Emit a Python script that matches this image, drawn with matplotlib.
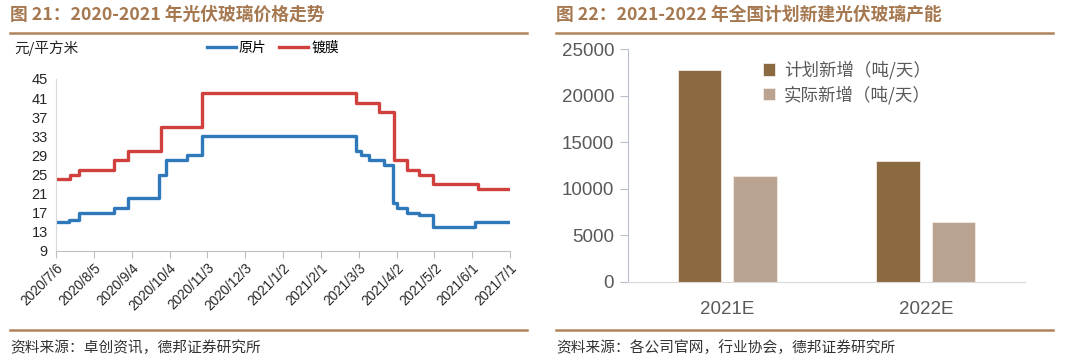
import matplotlib
matplotlib.use('Agg')
import matplotlib.pyplot as plt
from matplotlib.lines import Line2D

plt.rcParams['font.family'] = ['Noto Sans CJK SC', 'DejaVu Sans']

# ---- 图21 data: price steps (day offset from 2020/7/6, value)
tick_days = [0, 30, 60, 90, 120, 150, 180, 210, 240, 270, 300, 330, 360]
tick_labels = ['2020/7/6', '2020/8/5', '2020/9/4', '2020/10/4', '2020/11/3',
               '2020/12/3', '2021/1/2', '2021/2/1', '2021/3/3', '2021/4/2',
               '2021/5/2', '2021/6/1', '2021/7/1']
coated_days = [0, 11, 18, 46, 57, 83, 116, 238, 256, 268, 278, 288, 299, 335, 360]
coated_vals = [24, 25, 26, 28, 30, 35, 42, 40, 38, 28, 26, 25, 23, 22, 22]
raw_days = [0, 10, 18, 46, 57, 82, 87, 104, 116, 238, 242, 248, 260, 267, 270,
            278, 288, 299, 332, 360]
raw_vals = [15, 15.5, 17, 18, 20, 25, 28, 29, 33, 30, 29, 28, 27, 19, 18,
            17, 16.5, 14, 15, 15]

# ---- 图22 data
years = ['2021E', '2022E']
planned = [22800, 13000]
actual = [11400, 6450]

W, H = 1080, 364
fig = plt.figure(figsize=(W / 100, H / 100), dpi=100)

title_c = '#a57850'
rule_c = '#b0845c'

def fx(x):
    return x / W

def fy(y):
    return 1 - y / H

# titles, rules, sources
fig.text(fx(10), fy(15), '图 21：2020-2021 年光伏玻璃价格走势', fontsize=12.8,
         fontweight='bold', color=title_c, va='center', ha='left')
fig.text(fx(556), fy(15), '图 22：2021-2022 年全国计划新建光伏玻璃产能', fontsize=12.8,
         fontweight='bold', color=title_c, va='center', ha='left')
for x0, x1 in [(10, 527), (556, 1053)]:
    fig.add_artist(Line2D([fx(x0), fx(x1)], [fy(32.5), fy(32.5)], color=rule_c, lw=1.8,
                          transform=fig.transFigure))
    fig.add_artist(Line2D([fx(x0), fx(x1)], [fy(329.5), fy(329.5)], color=rule_c, lw=1.8,
                          transform=fig.transFigure))
fig.text(fx(10), fy(348), '资料来源：卓创资讯，德邦证券研究所', fontsize=10.6,
         color='#333333', va='center', ha='left')
fig.text(fx(556), fy(348), '资料来源：各公司官网，行业协会，德邦证券研究所', fontsize=10.6,
         color='#333333', va='center', ha='left')

# ---- left chart
ax1 = fig.add_axes([fx(56), fy(251), fx(510 - 56), (251 - 79) / H])
ax1.plot(raw_days, raw_vals, drawstyle='steps-post', color='#2f78b9', lw=2.4, label='原片')
ax1.plot(coated_days, coated_vals, drawstyle='steps-post', color='#d0403d', lw=2.4, label='镀膜')
ax1.set_xlim(0, 360)
ax1.set_ylim(9, 45)
ax1.set_yticks(range(9, 46, 4))
ax1.set_xticks(tick_days)
ax1.set_xticklabels(tick_labels, rotation=45, ha='right', rotation_mode='anchor')
for lab in ax1.get_xticklabels() + ax1.get_yticklabels():
    lab.set_family(['Liberation Sans', 'DejaVu Sans'])
    lab.set_color('#262626')
for lab in ax1.get_yticklabels():
    lab.set_fontsize(10.5)
for lab in ax1.get_xticklabels():
    lab.set_fontsize(9.8)
ax1.spines['top'].set_visible(False)
ax1.spines['right'].set_visible(False)
ax1.spines['left'].set_color('#d9d9d9')
ax1.spines['bottom'].set_color('#bfbfbf')
ax1.tick_params(axis='y', length=0, pad=6)
ax1.tick_params(axis='x', length=5, color='#bfbfbf', pad=2)
fig.text(fx(14), fy(48), '元/平方米', fontsize=10.5, color='#262626', va='center', ha='left')
ax1.legend(loc='center left', bbox_to_anchor=(fx(200), fy(48)), bbox_transform=fig.transFigure,
           ncol=2, frameon=False, fontsize=10, handlelength=2.1, handletextpad=0.2,
           columnspacing=0.9, borderpad=0)

# ---- right chart
ax2 = fig.add_axes([fx(628), fy(282), fx(1025 - 628), (282 - 49) / H])
pos = range(len(years))
ax2.bar([p - 0.14 for p in pos], planned, width=0.22, color='#8b6941',
        edgecolor='#f2ece6', linewidth=0.6, label='计划新增（吨/天）')
ax2.bar([p + 0.14 for p in pos], actual, width=0.22, color='#baa391',
        edgecolor='#f2ece6', linewidth=0.6, label='实际新增（吨/天）')
ax2.set_xlim(-0.5, 1.5)
ax2.set_ylim(0, 25000)
ax2.set_yticks(range(0, 25001, 5000))
ax2.set_xticks(list(pos))
ax2.set_xticklabels(years)
for lab in ax2.get_xticklabels() + ax2.get_yticklabels():
    lab.set_family(['Liberation Sans', 'DejaVu Sans'])
    lab.set_fontsize(13.5)
    lab.set_color('#595959')
ax2.spines['top'].set_visible(False)
ax2.spines['right'].set_visible(False)
ax2.spines['left'].set_color('#b8bfd0')
ax2.spines['bottom'].set_color('#d9d9d9')
ax2.tick_params(axis='y', length=6, color='#b8bfd0', pad=4)
ax2.tick_params(axis='x', length=0, pad=14)
ax2.legend(loc='upper left', bbox_to_anchor=(fx(754), fy(52)), bbox_transform=fig.transFigure,
           frameon=False, fontsize=12.6, handlelength=0.72, handleheight=0.72,
           handletextpad=0.5, labelspacing=0.35, borderpad=0, labelcolor='#595959')

fig.savefig('out.png', dpi=100)
